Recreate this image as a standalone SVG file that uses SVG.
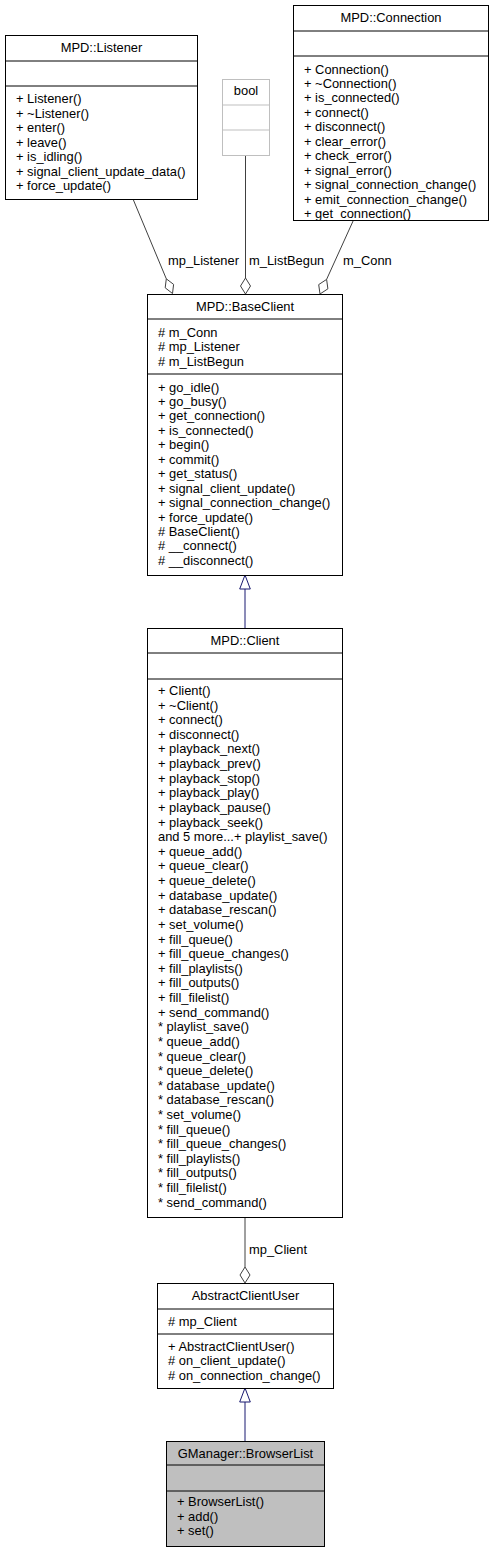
<svg xmlns="http://www.w3.org/2000/svg" width="493" height="1552" viewBox="0 0 493 1552">
<style>
text{font-family:"Liberation Sans",Arial,Helvetica,sans-serif;font-size:12.9px;fill:#000}
.t{text-anchor:middle}
.box{fill:#fff;stroke:#000;stroke-width:1}
.gbox{fill:#fff;stroke:#bfbfbf;stroke-width:1}
.sel{fill:#bfbfbf;stroke:#000;stroke-width:1}
.sep{stroke:#000;stroke-width:1}
.gsep{stroke:#bfbfbf;stroke-width:1}
.agg{stroke:#404040;stroke-width:1;fill:none}
.dia{fill:#fff;stroke:#404040;stroke-width:1}
.inh{stroke:#191970;stroke-width:1;fill:none}
.tri{fill:#fff;stroke:#191970;stroke-width:1}
</style>
<rect width="493" height="1552" fill="#fff"/>
<g id="connectors">
<path class="agg" d="M133,199 L166.3,278.8"/>
<polygon class="dia" points="172.5,293.5 173.6,284.4 166.3,278.8 165.2,287.8"/>
<text x="168" y="264.5">mp_Listener</text>
<path class="agg" d="M245.5,155 L245.5,278"/>
<polygon class="dia" points="245.5,294 250.5,286 245.5,278 240.5,286"/>
<text x="249" y="264.5">m_ListBegun</text>
<path class="agg" d="M353.3,220.5 L326.6,279.4"/>
<polygon class="dia" points="320,294 327.9,288.8 326.6,279.4 318.7,284.6"/>
<text x="343" y="264.5">m_Conn</text>
<path class="inh" d="M245,628 L245,589"/>
<polygon class="tri" points="245,575 250.3,589 239.7,589"/>
<path class="agg" d="M245,1217 L245,1267"/>
<polygon class="dia" points="245,1283 250,1275 245,1267 240,1275"/>
<text x="249" y="1254">mp_Client</text>
<path class="inh" d="M245,1441 L245,1402"/>
<polygon class="tri" points="245,1388 250.3,1402 239.7,1402"/>
</g>
<g id="listener">
<rect class="box" x="5.5" y="35.5" width="192" height="164"/>
<line class="sep" x1="5.5" y1="61" x2="197.5" y2="61"/>
<line class="sep" x1="5.5" y1="86" x2="197.5" y2="86"/>
<text class="t" x="101.5" y="51.7">MPD::Listener</text>
<text><tspan x="16" y="103.3">+ Listener()</tspan><tspan x="16" y="117.75">+ ~Listener()</tspan><tspan x="16" y="132.2">+ enter()</tspan><tspan x="16" y="146.65">+ leave()</tspan><tspan x="16" y="161.1">+ is_idling()</tspan><tspan x="16" y="175.55">+ signal_client_update_data()</tspan><tspan x="16" y="190">+ force_update()</tspan></text>
</g>
<g id="bool">
<rect class="gbox" x="222.5" y="79.5" width="47" height="76"/>
<line class="gsep" x1="222.5" y1="105" x2="269.5" y2="105"/>
<line class="gsep" x1="222.5" y1="130" x2="269.5" y2="130"/>
<text class="t" x="246" y="95.3">bool</text>
</g>
<g id="connection">
<rect class="box" x="293.5" y="5.5" width="195" height="215"/>
<line class="sep" x1="293.5" y1="31" x2="488.5" y2="31"/>
<line class="sep" x1="293.5" y1="56" x2="488.5" y2="56"/>
<text class="t" x="391" y="21.7">MPD::Connection</text>
<text><tspan x="304" y="73.5">+ Connection()</tspan><tspan x="304" y="87.95">+ ~Connection()</tspan><tspan x="304" y="102.4">+ is_connected()</tspan><tspan x="304" y="116.85">+ connect()</tspan><tspan x="304" y="131.3">+ disconnect()</tspan><tspan x="304" y="145.75">+ clear_error()</tspan><tspan x="304" y="160.2">+ check_error()</tspan><tspan x="304" y="174.65">+ signal_error()</tspan><tspan x="304" y="189.1">+ signal_connection_change()</tspan><tspan x="304" y="203.55">+ emit_connection_change()</tspan><tspan x="304" y="218">+ get_connection()</tspan></text>
</g>
<g id="baseclient">
<rect class="box" x="147.5" y="294.5" width="195" height="281"/>
<line class="sep" x1="147.5" y1="319" x2="342.5" y2="319"/>
<line class="sep" x1="147.5" y1="374" x2="342.5" y2="374"/>
<text class="t" x="245" y="310.7">MPD::BaseClient</text>
<text><tspan x="158" y="336.5"># m_Conn</tspan><tspan x="158" y="351"># mp_Listener</tspan><tspan x="158" y="365.5"># m_ListBegun</tspan></text>
<text><tspan x="158" y="391.5">+ go_idle()</tspan><tspan x="158" y="405.95">+ go_busy()</tspan><tspan x="158" y="420.4">+ get_connection()</tspan><tspan x="158" y="434.85">+ is_connected()</tspan><tspan x="158" y="449.3">+ begin()</tspan><tspan x="158" y="463.75">+ commit()</tspan><tspan x="158" y="478.2">+ get_status()</tspan><tspan x="158" y="492.65">+ signal_client_update()</tspan><tspan x="158" y="507.1">+ signal_connection_change()</tspan><tspan x="158" y="521.55">+ force_update()</tspan><tspan x="158" y="536"># BaseClient()</tspan><tspan x="158" y="550.45"># __connect()</tspan><tspan x="158" y="564.9"># __disconnect()</tspan></text>
</g>
<g id="client">
<rect class="box" x="147.5" y="628.5" width="195" height="589"/>
<line class="sep" x1="147.5" y1="653" x2="342.5" y2="653"/>
<line class="sep" x1="147.5" y1="679" x2="342.5" y2="679"/>
<text class="t" x="245" y="645">MPD::Client</text>
<text><tspan x="158" y="695">+ Client()</tspan><tspan x="158" y="709.62">+ ~Client()</tspan><tspan x="158" y="724.24">+ connect()</tspan><tspan x="158" y="738.86">+ disconnect()</tspan><tspan x="158" y="753.48">+ playback_next()</tspan><tspan x="158" y="768.1">+ playback_prev()</tspan><tspan x="158" y="782.72">+ playback_stop()</tspan><tspan x="158" y="797.34">+ playback_play()</tspan><tspan x="158" y="811.96">+ playback_pause()</tspan><tspan x="158" y="826.58">+ playback_seek()</tspan><tspan x="158" y="841.2">and 5 more...+ playlist_save()</tspan><tspan x="158" y="855.82">+ queue_add()</tspan><tspan x="158" y="870.44">+ queue_clear()</tspan><tspan x="158" y="885.06">+ queue_delete()</tspan><tspan x="158" y="899.68">+ database_update()</tspan><tspan x="158" y="914.3">+ database_rescan()</tspan><tspan x="158" y="928.92">+ set_volume()</tspan><tspan x="158" y="943.54">+ fill_queue()</tspan><tspan x="158" y="958.16">+ fill_queue_changes()</tspan><tspan x="158" y="972.78">+ fill_playlists()</tspan><tspan x="158" y="987.4">+ fill_outputs()</tspan><tspan x="158" y="1002.02">+ fill_filelist()</tspan><tspan x="158" y="1016.64">+ send_command()</tspan><tspan x="158" y="1031.26">* playlist_save()</tspan><tspan x="158" y="1045.88">* queue_add()</tspan><tspan x="158" y="1060.5">* queue_clear()</tspan><tspan x="158" y="1075.12">* queue_delete()</tspan><tspan x="158" y="1089.74">* database_update()</tspan><tspan x="158" y="1104.36">* database_rescan()</tspan><tspan x="158" y="1118.98">* set_volume()</tspan><tspan x="158" y="1133.6">* fill_queue()</tspan><tspan x="158" y="1148.22">* fill_queue_changes()</tspan><tspan x="158" y="1162.84">* fill_playlists()</tspan><tspan x="158" y="1177.46">* fill_outputs()</tspan><tspan x="158" y="1192.08">* fill_filelist()</tspan><tspan x="158" y="1206.7">* send_command()</tspan></text>
</g>
<g id="abstractclientuser">
<rect class="box" x="157.5" y="1283.5" width="176" height="105"/>
<line class="sep" x1="157.5" y1="1309" x2="333.5" y2="1309"/>
<line class="sep" x1="157.5" y1="1334" x2="333.5" y2="1334"/>
<text class="t" x="245.5" y="1299.5">AbstractClientUser</text>
<text x="168" y="1325.5"># mp_Client</text>
<text><tspan x="168" y="1350.5">+ AbstractClientUser()</tspan><tspan x="168" y="1365"># on_client_update()</tspan><tspan x="168" y="1379.5"># on_connection_change()</tspan></text>
</g>
<g id="browserlist">
<rect class="sel" x="166.5" y="1441.5" width="158" height="105"/>
<line class="sep" x1="166.5" y1="1465" x2="324.5" y2="1465"/>
<line class="sep" x1="166.5" y1="1491" x2="324.5" y2="1491"/>
<text class="t" x="245.5" y="1457.5">GManager::BrowserList</text>
<text><tspan x="177" y="1506">+ BrowserList()</tspan><tspan x="177" y="1520.5">+ add()</tspan><tspan x="177" y="1535">+ set()</tspan></text>
</g>
</svg>
